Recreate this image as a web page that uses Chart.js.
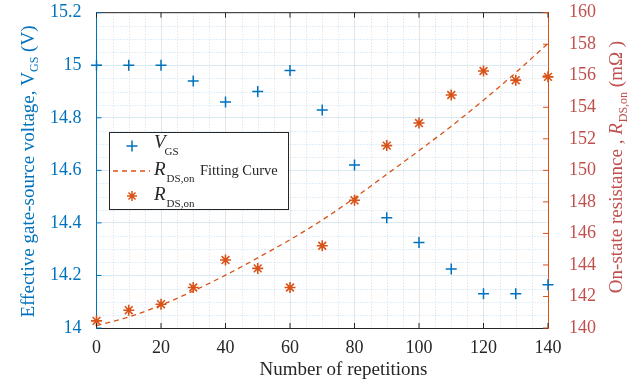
<!DOCTYPE html>
<html><head><meta charset="utf-8">
<script src="https://cdn.jsdelivr.net/npm/chart.js@4/dist/chart.umd.min.js"></script>
<style>html,body{margin:0;padding:0;background:#fff}#wrap{width:638px;height:383px;position:relative}</style>
</head><body><div id="wrap"><canvas id="c" width="638" height="383"></canvas></div>
<script>
const repetitions = [0, 10, 20, 30, 40, 50, 60, 70, 80, 90, 100, 110, 120, 130, 140];
const vgsValues = [15.0, 15.0, 15.0, 14.94, 14.86, 14.90, 14.98, 14.83, 14.62, 14.42, 14.325, 14.225, 14.13, 14.13, 14.165];
const rdsValues = [140.45, 141.13, 141.51, 142.57, 144.31, 143.78, 142.57, 145.22, 148.1, 151.57, 153.0, 154.78, 156.3, 155.72, 155.93];
const rdsFitValues = [140.15, 140.7, 141.45, 142.35, 143.35, 144.45, 145.6, 146.85, 148.25, 149.75, 151.25, 152.8, 154.45, 156.2, 158.05];
const xTicks = [0, 20, 40, 60, 80, 100, 120, 140];
const xMinorTicks = [5, 10, 15, 25, 30, 35, 45, 50, 55, 65, 70, 75, 85, 90, 95, 105, 110, 115, 125, 130, 135];
const vgsTicks = [14, 14.2, 14.4, 14.6, 14.8, 15, 15.2];
const vgsMinorTicks = [14.05, 14.1, 14.15, 14.25, 14.3, 14.35, 14.45, 14.5, 14.55, 14.65, 14.7, 14.75, 14.85, 14.9, 14.95, 15.05, 15.1, 15.15];
const rdsTicks = [140, 142, 144, 146, 148, 150, 152, 154, 156, 158, 160];

const BLUE = '#0072BD', ORANGE = '#D95319', RED = '#C0504D', DARK = '#262626';
const SERIF = "'Liberation Serif', 'Times New Roman', serif";

function drawRich(ctx, x, y, parts) {
  for (const p of parts) {
    ctx.font = p.font;
    const dx = p.dx || 0;
    ctx.fillText(p.text, x + dx, y + (p.dy || 0));
    x += dx + ctx.measureText(p.text).width;
  }
  return x;
}
function richWidth(ctx, parts) {
  let w = 0;
  for (const p of parts) { ctx.font = p.font; w += (p.dx || 0) + ctx.measureText(p.text).width; }
  return w;
}

const decor = {
  id: 'decor',
  beforeDatasetsDraw(chart) {
    const ctx = chart.ctx, a = chart.chartArea;
    const sx = chart.scales.x, sy = chart.scales.y;
    ctx.save();
    ctx.lineWidth = 1;
    ctx.setLineDash([1, 2]);
    ctx.strokeStyle = 'rgba(150,150,150,0.35)';
    for (const v of xMinorTicks) {
      const px = Math.round(sx.getPixelForValue(v)) + 0.5;
      ctx.beginPath(); ctx.moveTo(px, a.top); ctx.lineTo(px, a.bottom); ctx.stroke();
    }
    ctx.strokeStyle = 'rgba(0,114,189,0.22)';
    for (const v of vgsMinorTicks) {
      const py = Math.round(sy.getPixelForValue(v)) + 0.5;
      ctx.beginPath(); ctx.moveTo(a.left, py); ctx.lineTo(a.right, py); ctx.stroke();
    }
    ctx.restore();
  },
  afterDraw(chart) {
    const ctx = chart.ctx, a = chart.chartArea;
    const sx = chart.scales.x, sy = chart.scales.y, sy1 = chart.scales.y1;
    ctx.save();
    ctx.strokeStyle = DARK; ctx.lineWidth = 1;
    ctx.beginPath(); ctx.moveTo(a.left, a.top); ctx.lineTo(a.right, a.top); ctx.stroke();
    const TL = 5;
    for (const v of xTicks) {
      const px = sx.getPixelForValue(v);
      ctx.beginPath(); ctx.moveTo(px, a.bottom); ctx.lineTo(px, a.bottom - TL);
      ctx.moveTo(px, a.top); ctx.lineTo(px, a.top + TL); ctx.stroke();
    }
    ctx.strokeStyle = BLUE;
    for (const v of vgsTicks) {
      const py = sy.getPixelForValue(v);
      ctx.beginPath(); ctx.moveTo(a.left, py); ctx.lineTo(a.left + TL, py); ctx.stroke();
    }
    ctx.strokeStyle = ORANGE;
    for (const v of rdsTicks) {
      const py = sy1.getPixelForValue(v);
      ctx.beginPath(); ctx.moveTo(a.right, py); ctx.lineTo(a.right - TL, py); ctx.stroke();
    }
    ctx.textBaseline = 'alphabetic';
    ctx.fillStyle = DARK;
    ctx.font = '19px ' + SERIF;
    ctx.textAlign = 'center';
    ctx.fillText('Number of repetitions', 343.5, 375);
    ctx.textAlign = 'left';
    const lParts = [
      {text: 'Effective gate-source voltage, V', font: '19px ' + SERIF},
      {text: 'GS', font: '12px ' + SERIF, dy: 4},
      {text: ' (V)', font: '19px ' + SERIF}
    ];
    ctx.save();
    ctx.translate(33.5, 171.5);
    ctx.rotate(-Math.PI / 2);
    ctx.fillStyle = BLUE;
    drawRich(ctx, -richWidth(ctx, lParts) / 2, 0, lParts);
    ctx.restore();
    const rParts = [
      {text: 'On-state resistance , ', font: '19px ' + SERIF},
      {text: 'R', font: 'italic 19px ' + SERIF},
      {text: 'DS,on', font: '12px ' + SERIF, dy: 5, dx: 1},
      {text: ' (m\u03A9 )', font: '19px ' + SERIF}
    ];
    ctx.save();
    ctx.translate(622, 167);
    ctx.rotate(-Math.PI / 2);
    ctx.fillStyle = RED;
    drawRich(ctx, -richWidth(ctx, rParts) / 2, 0, rParts);
    ctx.restore();
    // legend
    ctx.fillStyle = '#fff';
    ctx.fillRect(109, 132, 180, 78);
    ctx.strokeStyle = DARK; ctx.lineWidth = 1;
    ctx.strokeRect(109.5, 132.5, 179, 77);
    ctx.strokeStyle = BLUE; ctx.lineWidth = 1.5;
    Chart.helpers.drawPoint(ctx, {pointStyle: 'cross', radius: 5.5, rotation: 0, borderWidth: 1.5}, 132, 146);
    ctx.strokeStyle = ORANGE; ctx.lineWidth = 1.3;
    ctx.setLineDash([5, 4]);
    ctx.beginPath(); ctx.moveTo(113, 171); ctx.lineTo(150, 171); ctx.stroke();
    ctx.setLineDash([]);
    ctx.lineWidth = 1.5;
    Chart.helpers.drawPoint(ctx, {pointStyle: 'star', radius: 5, rotation: 0, borderWidth: 1.5}, 132, 196);
    ctx.fillStyle = DARK;
    drawRich(ctx, 154, 148, [
      {text: 'V', font: 'italic 19px ' + SERIF},
      {text: 'GS', font: '11px ' + SERIF, dy: 6.5, dx: -1}
    ]);
    drawRich(ctx, 154, 175, [
      {text: 'R', font: 'italic 19px ' + SERIF},
      {text: 'DS,on', font: '11px ' + SERIF, dy: 7, dx: 1}
    ]);
    ctx.font = '14.5px ' + SERIF;
    ctx.fillText('Fitting Curve', 200, 175);
    drawRich(ctx, 154, 200, [
      {text: 'R', font: 'italic 19px ' + SERIF},
      {text: 'DS,on', font: '11px ' + SERIF, dy: 7, dx: 1}
    ]);
    ctx.restore();
  }
};

const tickFont = {family: SERIF, size: 18};

new Chart(document.getElementById('c'), {
  data: {
    labels: repetitions,
    datasets: [
      {
        type: 'scatter', label: 'VGS', yAxisID: 'y',
        data: repetitions.map((r, i) => ({x: r, y: vgsValues[i]})),
        pointStyle: 'cross', pointRadius: 5.5, borderColor: BLUE, backgroundColor: BLUE,
        pointBorderWidth: 1.5, clip: false
      },
      {
        type: 'line', label: 'RDS,on Fitting Curve', yAxisID: 'y1',
        data: repetitions.map((r, i) => ({x: r, y: rdsFitValues[i]})),
        borderColor: ORANGE, borderWidth: 1.3, borderDash: [5, 4], pointRadius: 0,
        fill: false, cubicInterpolationMode: 'monotone'
      },
      {
        type: 'scatter', label: 'RDS,on', yAxisID: 'y1',
        data: repetitions.map((r, i) => ({x: r, y: rdsValues[i]})),
        pointStyle: 'star', pointRadius: 5.5, borderColor: ORANGE, backgroundColor: ORANGE,
        pointBorderWidth: 1.6, clip: false
      }
    ]
  },
  options: {
    responsive: false, animation: false, devicePixelRatio: 1,
    layout: {padding: {top: 12.7, left: 0, right: 0, bottom: 0}},
    plugins: {legend: {display: false}, tooltip: {enabled: false}},
    scales: {
      x: {
        type: 'linear', min: 0, max: 140,
        afterBuildTicks: s => { s.ticks = xTicks.map(v => ({value: v})); },
        grid: {color: 'rgba(0,0,0,0.1)', lineWidth: 1, drawTicks: false},
        border: {display: true, color: DARK, width: 1},
        ticks: {padding: 9, color: DARK, font: tickFont, maxRotation: 0, autoSkip: false},
        afterFit: s => { s.height = 55; s.paddingLeft = 0; s.paddingRight = 0; }
      },
      y: {
        type: 'linear', position: 'left', min: 14, max: 15.2,
        afterBuildTicks: s => { s.ticks = vgsTicks.map(v => ({value: v})); },
        grid: {color: 'rgba(0,114,189,0.15)', lineWidth: 1, drawTicks: false},
        border: {display: true, color: BLUE, width: 1},
        ticks: {padding: 15, color: BLUE, font: tickFont, autoSkip: false,
          callback: v => String(+(+v).toFixed(1))},
        afterFit: s => { s.width = 96.5; s.paddingTop = 0; s.paddingBottom = 0; }
      },
      y1: {
        type: 'linear', position: 'right', min: 140, max: 160,
        afterBuildTicks: s => { s.ticks = rdsTicks.map(v => ({value: v})); },
        grid: {display: false, drawTicks: false},
        border: {display: true, color: ORANGE, width: 1},
        ticks: {padding: 21, color: RED, font: tickFont, autoSkip: false},
        afterFit: s => { s.width = 90; s.paddingTop = 0; s.paddingBottom = 0; }
      }
    }
  },
  plugins: [decor]
});
</script>
</body></html>
